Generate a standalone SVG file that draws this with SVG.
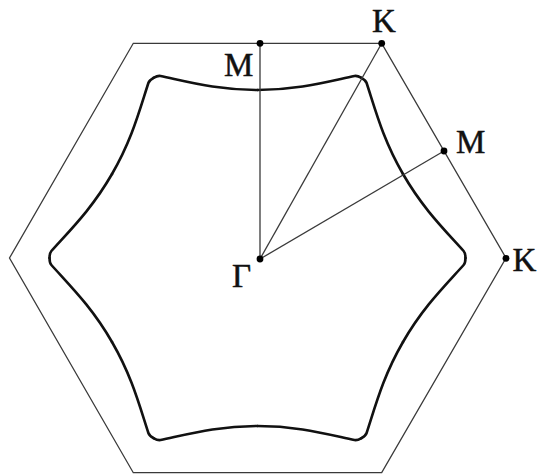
<svg xmlns="http://www.w3.org/2000/svg" xmlns:xlink="http://www.w3.org/1999/xlink" width="537" height="475" viewBox="0 0 537 475">
<style>
.thin{fill:none;stroke:#3a3a3a;stroke-width:1.3}
.fs{fill:none;stroke:#111;stroke-width:2.6;stroke-linecap:round;stroke-linejoin:round}
.dot{fill:#000}
.lbl{font-family:"Liberation Serif","Times New Roman",serif;font-size:33px;fill:#111;stroke:#111;stroke-width:0.5}
</style>
<defs>
<path id="half" d="M0,-168 C40,-168 67.7,-175.8 97,-182 C99.4,-182.5 101.8,-181.35 104,-180.1"/>
<g id="seg">
<use xlink:href="#half" href="#half"/>
<use xlink:href="#half" href="#half" transform="matrix(-0.5,-0.8660254,-0.8660254,0.5,0,0)"/>
</g>
</defs>
<rect width="537" height="475" fill="#fff"/>
<g id="brillouin-zone">
<polygon class="thin" points="506,258 381.7,43.3 133.3,43.3 9.5,258 133.3,472.7 381.7,472.7"/>
</g>
<g id="fermi-surface" class="fs" transform="translate(257.5,258)">
<use xlink:href="#seg" href="#seg"/>
<use xlink:href="#seg" href="#seg" transform="rotate(60)"/>
<use xlink:href="#seg" href="#seg" transform="rotate(120)"/>
<use xlink:href="#seg" href="#seg" transform="rotate(180)"/>
<use xlink:href="#seg" href="#seg" transform="rotate(240)"/>
<use xlink:href="#seg" href="#seg" transform="rotate(300)"/>
</g>
<g id="connectors" class="thin">
<line x1="260" y1="259" x2="260" y2="43.3"/>
<line x1="260" y1="259" x2="381.7" y2="43.3"/>
<line x1="260" y1="259" x2="444" y2="151"/>
</g>
<g id="gamma"><circle class="dot" cx="260" cy="259" r="3.4"/><text class="lbl" x="232" y="286.5">Γ</text></g>
<g id="m-top"><circle class="dot" cx="260" cy="43.3" r="3.4"/><text class="lbl" x="224" y="76">M</text></g>
<g id="k-top"><circle class="dot" cx="381.7" cy="43.3" r="3.4"/><text class="lbl" x="372" y="32.3">K</text></g>
<g id="m-right"><circle class="dot" cx="444" cy="151" r="3.4"/><text class="lbl" x="456" y="153.3">M</text></g>
<g id="k-right"><circle class="dot" cx="506" cy="258.3" r="3.4"/><text class="lbl" x="512.5" y="270.7">K</text></g>
</svg>
